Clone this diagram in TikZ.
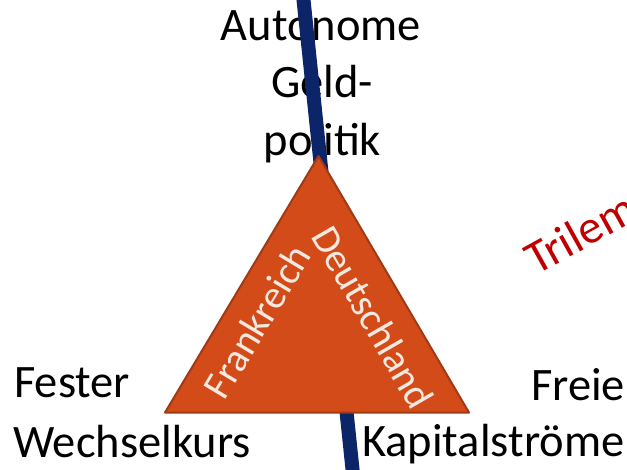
\documentclass[tikz,border=0pt]{standalone}
\usepackage{fontspec}
\setmainfont{Carlito}
\definecolor{navyline}{RGB}{12,36,104}
\definecolor{trifill}{RGB}{210,75,25}
\definecolor{triedge}{RGB}{160,58,20}
\definecolor{trilred}{RGB}{192,0,0}
\definecolor{cream}{RGB}{245,232,222}
\begin{document}
\begin{tikzpicture}[x=1pt,y=-1pt,
  blk/.style={font=\fontsize{46.5}{56}\selectfont, inner sep=0pt, text=black},
  inner/.style={font=\fontsize{40}{48}\selectfont, inner sep=0pt, text=cream},
  redtxt/.style={font=\fontsize{47}{54}\selectfont, inner sep=0pt, anchor=base west, rotate=29, text=trilred}]
\useasboundingbox (0,0) rectangle (627,469);
\clip (0,0) rectangle (627,469);
% labels
\node[blk, anchor=base] (a1) at (321,40.7) {Autonome};
\node[blk, anchor=base] (a2) at (322,97.3) {Geld-};
\node[blk, anchor=base] (a3) at (322.5,155) {politik};
\node[blk, anchor=base west] (f1) at (14,397.3) {Fester};
\node[blk, anchor=base west] (f2) at (13,457.3) {Wechselkurs};
\node[blk, anchor=base west] (k1) at (531,400.7) {Freie};
\node[blk, anchor=base west] (k2) at (362,456.7) {Kapitalströme};
% blue line
\coordinate (lt) at (303,-5);
\coordinate (lb) at (353,474);
\draw[navyline, line width=14pt] (lt) -- (lb);
% triangle
\coordinate (apex) at (318.5,156);
\coordinate (bl) at (165,412.5);
\coordinate (br) at (469,412.5);
\filldraw[fill=trifill, draw=triedge, line width=2pt, line join=round] (apex) -- (bl) -- (br) -- cycle;
\node[inner, rotate=59] (fr) at (257,321) {Frankreich};
\node[inner, rotate=-60] (de) at (373,317) {Deutschland};
% Trilemma
\node[redtxt] (tr) at (536,276) {Trilemma};
\end{tikzpicture}
\end{document}
